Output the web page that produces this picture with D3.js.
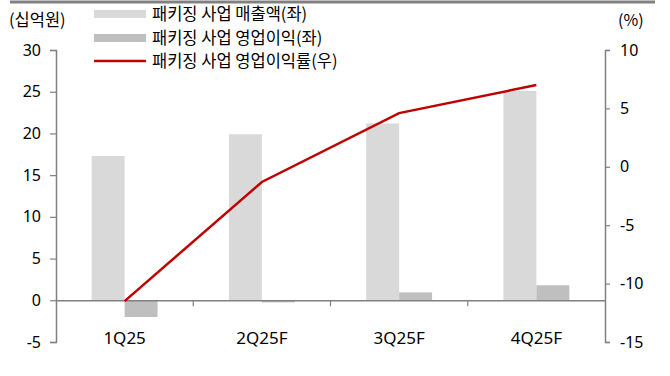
<!DOCTYPE html>
<html>
<head>
<meta charset="utf-8">
<script src="https://cdn.jsdelivr.net/npm/d3@7"></script>
<style>
  body { margin: 0; background: #fff; }
  svg { font-family: "Noto Sans CJK KR", "Noto Sans", sans-serif; }
</style>
</head>
<body>
<div id="chart"></div>
<script>
var categories = ["1Q25", "2Q25F", "3Q25F", "4Q25F"];
var sales = [17.3, 19.9, 21.2, 25.1];        // 패키징 사업 매출액 (좌)
var opProfit = [-2.0, -0.25, 0.95, 1.8];     // 패키징 사업 영업이익 (좌)
var opMargin = [-11.5, -1.3, 4.6, 7.0];      // 패키징 사업 영업이익률 (우)
var leftTicks = [-5, 0, 5, 10, 15, 20, 25, 30];
var rightTicks = [-15, -10, -5, 0, 5, 10];
var legendNames = ["패키징 사업 매출액(좌)", "패키징 사업 영업이익(좌)", "패키징 사업 영업이익률(우)"];

var width = 670, height = 376;
var margin = { top: 50, right: 65, bottom: 34, left: 56 };
var axisColor = "#808080";
var numFont = "'Noto Sans', sans-serif";

var svg = d3.select("#chart").append("svg")
    .attr("width", width)
    .attr("height", height);

// top rule
svg.append("line")
    .attr("x1", 10).attr("x2", 655)
    .attr("y1", 2).attr("y2", 2)
    .attr("stroke", axisColor).attr("stroke-width", 3);

var x = d3.scaleBand()
    .domain(categories)
    .range([margin.left, width - margin.right]);

var yL = d3.scaleLinear()
    .domain([-5, 30])
    .range([height - margin.bottom, margin.top]);

var yR = d3.scaleLinear()
    .domain([-15, 10])
    .range([height - margin.bottom, margin.top]);

var barW = x.bandwidth() * 0.24;

// bars
svg.append("g").selectAll("rect")
    .data(sales)
    .enter().append("rect")
    .attr("x", function(d, i) { return x(categories[i]) + x.bandwidth() / 2 - barW; })
    .attr("y", function(d) { return yL(d); })
    .attr("width", barW)
    .attr("height", function(d) { return yL(0) - yL(d); })
    .attr("fill", "#d9d9d9");

svg.append("g").selectAll("rect")
    .data(opProfit)
    .enter().append("rect")
    .attr("x", function(d, i) { return x(categories[i]) + x.bandwidth() / 2; })
    .attr("y", function(d) { return yL(Math.max(0, d)); })
    .attr("width", barW)
    .attr("height", function(d) { return Math.abs(yL(0) - yL(d)); })
    .attr("fill", "#bfbfbf");

// plain hyphen for negatives, like the original
var fmt = function(d) { return String(d); };

// left axis
var gL = svg.append("g")
    .attr("transform", "translate(" + margin.left + ",0)")
    .call(d3.axisLeft(yL).tickValues(leftTicks).tickFormat(fmt).tickSize(6).tickPadding(9));

// right axis
var gR = svg.append("g")
    .attr("transform", "translate(" + (width - margin.right) + ",0)")
    .call(d3.axisRight(yR).tickValues(rightTicks).tickFormat(fmt).tickSize(5).tickPadding(10));

[gL, gR].forEach(function(g) {
    g.select(".domain").attr("stroke", axisColor).attr("stroke-width", 1.5);
    g.selectAll(".tick line").attr("stroke", axisColor).attr("stroke-width", 1.2);
    g.selectAll(".tick text")
        .attr("fill", "#000")
        .style("font-size", "16px")
        .style("font-family", numFont);
});

// category axis on zero line
var gX = svg.append("g")
    .attr("transform", "translate(0," + yL(0) + ")")
    .call(d3.axisBottom(x).tickSize(0).tickFormat(""));
gX.select(".domain").attr("stroke", axisColor).attr("stroke-width", 1.5);

svg.append("g").selectAll("line")
    .data(categories.slice(1))
    .enter().append("line")
    .attr("x1", function(d) { return x(d); })
    .attr("x2", function(d) { return x(d); })
    .attr("y1", yL(0))
    .attr("y2", yL(0) + 6)
    .attr("stroke", axisColor)
    .attr("stroke-width", 1.2);

svg.append("g").selectAll("text")
    .data(categories)
    .enter().append("text")
    .attr("x", function(d) { return x(d) + x.bandwidth() / 2; })
    .attr("y", 344)
    .attr("text-anchor", "middle")
    .style("font-size", "17px")
    .style("font-family", numFont)
    .text(function(d) { return d; });

// margin line
var line = d3.line()
    .x(function(d, i) { return x(categories[i]) + x.bandwidth() / 2; })
    .y(function(d) { return yR(d); });

svg.append("path")
    .attr("d", line(opMargin))
    .attr("fill", "none")
    .attr("stroke", "#c00000")
    .attr("stroke-width", 2.5);

// unit labels
svg.append("text")
    .attr("x", 9).attr("y", 26)
    .style("font-size", "16.5px")
    .text("(십억원)");
svg.append("text")
    .attr("x", 618).attr("y", 26)
    .style("font-size", "16px")
    .text("(%)");

// legend
var legend = svg.append("g");
var rows = [14, 38, 61];
legend.append("rect").attr("x", 94).attr("y", rows[0] - 4).attr("width", 52).attr("height", 8).attr("fill", "#d9d9d9");
legend.append("rect").attr("x", 94).attr("y", rows[1] - 4).attr("width", 52).attr("height", 8).attr("fill", "#bfbfbf");
legend.append("line").attr("x1", 94).attr("x2", 146).attr("y1", rows[2]).attr("y2", rows[2])
    .attr("stroke", "#c00000").attr("stroke-width", 2.5);
legend.selectAll("text")
    .data(legendNames)
    .enter().append("text")
    .attr("x", 152)
    .attr("y", function(d, i) { return rows[i]; })
    .attr("dy", "0.35em")
    .style("font-size", "16.5px")
    .text(function(d) { return d; });
</script>
</body>
</html>
